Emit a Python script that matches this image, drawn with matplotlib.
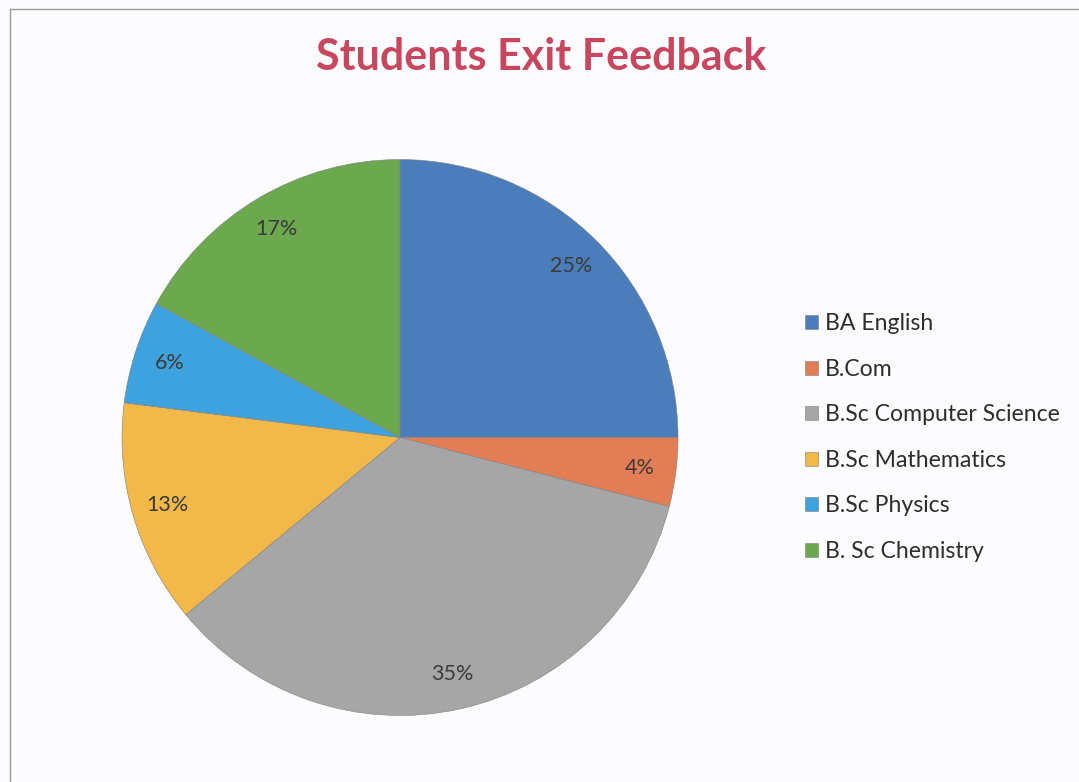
import matplotlib
matplotlib.use("Agg")
import matplotlib.pyplot as plt
from matplotlib.lines import Line2D

categories = ["BA English", "B.Com", "B.Sc Computer Science", "B.Sc Mathematics",
              "B.Sc Physics", "B. Sc Chemistry"]
values = [25, 4, 35, 13, 6, 17]
colors = ["#4A7DBA", "#E27D56", "#A6A6A6", "#F2B84A", "#3EA2DF", "#6BA84E"]
title = "Students Exit Feedback"

plt.rcParams['font.family'] = ['Lato', 'DejaVu Sans']

W, H = 1079, 782
fig = plt.figure(figsize=(W / 100, H / 100), dpi=100)
fig.patch.set_facecolor("#FCFCFE")
ax = fig.add_axes([0, 0, 1, 1])
ax.set_xlim(0, W)
ax.set_ylim(0, H)
ax.set_aspect("equal")
ax.axis("off")

# frame border (left and top visible)
ax.add_line(Line2D([10, 10], [0, H - 9], color="#9A9A9A", lw=1.0))
ax.add_line(Line2D([10, W], [H - 9, H - 9], color="#9A9A9A", lw=1.0))

wedges, texts, autotexts = ax.pie(
    values, colors=colors, startangle=90, counterclock=False,
    center=(400, H - 437.5), radius=278, autopct="%d%%", pctdistance=0.87,
    wedgeprops=dict(linewidth=0.4, edgecolor="#808080"),
    textprops=dict(fontsize=15.5, color="#3A3A3A"), frame=True)
ax.set_xlim(0, W)
ax.set_ylim(0, H)
ax.axis("off")

ax.text(541, H - 57, title, ha="center", va="center", fontsize=31,
        fontweight="bold", color="#C8475F")

leg = ax.legend(wedges, categories, loc="upper left",
                bbox_to_anchor=(796 / W, 1 - 304 / H), frameon=False,
                fontsize=16.6, handlelength=0.55, handleheight=0.55,
                handletextpad=0.3, labelspacing=1.065, borderaxespad=0)
for t in leg.get_texts():
    t.set_color("#2E2E2E")

fig.savefig("out.png", dpi=100, facecolor=fig.get_facecolor())
